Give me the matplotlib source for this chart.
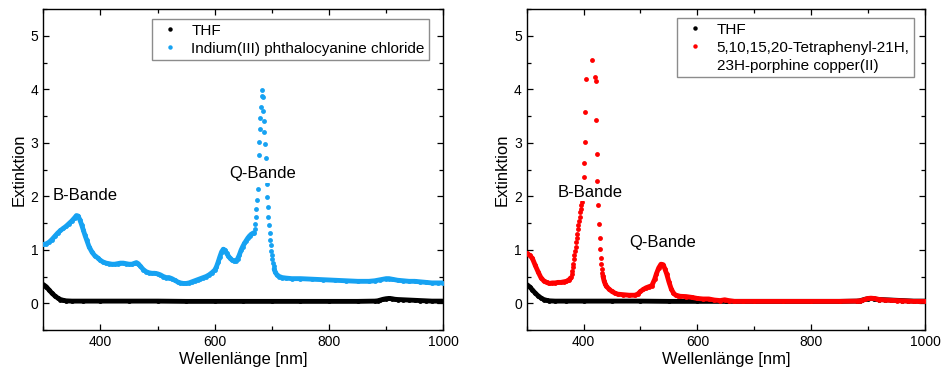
import numpy as np
import matplotlib
matplotlib.use('Agg')
import matplotlib.pyplot as plt
from matplotlib.lines import Line2D

plt.rcParams['font.family'] = ['Liberation Sans', 'DejaVu Sans']

#-------- Data --------#
# THF solvent baseline (same in both panels)
thf_wl = [300, 305, 310, 315, 320, 325, 330, 335, 340, 350, 370, 400, 450, 500, 550, 600,
          650, 700, 750, 800, 850, 880, 885, 890, 895, 900, 905, 910, 915, 920, 930, 940,
          950, 960, 970, 980, 990, 1000]
thf_ext = [0.35, 0.31, 0.25, 0.19, 0.14, 0.10, 0.07, 0.055, 0.045, 0.04, 0.04, 0.04, 0.04, 0.04,
           0.035, 0.035, 0.035, 0.035, 0.035, 0.035, 0.035, 0.04, 0.045, 0.06, 0.075, 0.085,
           0.09, 0.085, 0.075, 0.07, 0.065, 0.06, 0.055, 0.05, 0.045, 0.04, 0.04, 0.04]

# Indium(III) phthalocyanine chloride
inpc_wl = [300, 305, 310, 315, 320, 325, 330, 335, 340, 345, 350, 355, 358, 361, 364, 367,
           370, 373, 376, 380, 385, 390, 395, 400, 405, 410, 415, 420, 425, 430, 435, 440,
           445, 450, 455, 460, 463, 466, 470, 475, 480, 485, 490, 495, 500, 505, 510, 515,
           520, 525, 530, 535, 540, 545, 550, 555, 560, 565, 570, 575, 580, 585, 590, 595,
           600, 603, 606, 609, 612, 615, 618, 621, 624, 627, 630, 634, 637, 640, 643, 646,
           649, 652, 655, 658, 661, 664, 667, 669,
           670, 671, 672, 673, 674, 675, 676, 677, 678, 679, 680, 681, 682, 683, 684, 685,
           686, 687, 688, 689, 690, 691, 692, 693, 694, 695, 696, 697, 698, 699, 700, 701,
           702, 703, 704, 706, 709, 713, 718, 725, 735, 750, 770, 790, 810, 830, 850, 870,
           880, 890, 900, 905, 910, 920, 930, 940, 950, 960, 970, 980, 990, 1000]
inpc_ext = [1.10, 1.11, 1.14, 1.19, 1.25, 1.31, 1.36, 1.40, 1.44, 1.49, 1.54, 1.60, 1.64, 1.63,
            1.56, 1.47, 1.37, 1.27, 1.18, 1.06, 0.96, 0.89, 0.85, 0.80, 0.77, 0.75, 0.74, 0.73,
            0.73, 0.74, 0.75, 0.75, 0.74, 0.73, 0.73, 0.75, 0.76, 0.74, 0.69, 0.63, 0.59, 0.57,
            0.56, 0.56, 0.55, 0.53, 0.50, 0.48, 0.48, 0.46, 0.43, 0.40, 0.38, 0.37, 0.37, 0.38,
            0.40, 0.42, 0.44, 0.46, 0.48, 0.50, 0.53, 0.57, 0.62, 0.68, 0.77, 0.87, 0.96, 1.01,
            0.99, 0.93, 0.88, 0.84, 0.81, 0.79, 0.79, 0.83, 0.90, 0.99, 1.06, 1.12, 1.17, 1.22,
            1.26, 1.29, 1.31, 1.32,
            1.38, 1.48, 1.61, 1.76, 1.93, 2.14, 2.45, 2.78, 3.02, 3.26, 3.47, 3.66, 3.88, 3.98,
            3.85, 3.60, 3.41, 3.20, 2.97, 2.72, 2.45, 2.22, 1.99, 1.79, 1.62, 1.47, 1.32, 1.18,
            1.08, 0.98, 0.90, 0.82, 0.75, 0.69, 0.64, 0.58, 0.53, 0.50, 0.48, 0.47, 0.46, 0.46,
            0.45, 0.44, 0.43, 0.42, 0.41, 0.41, 0.42, 0.44, 0.46, 0.46, 0.45, 0.43, 0.42, 0.41,
            0.41, 0.40, 0.39, 0.38, 0.38, 0.38]

# 5,10,15,20-Tetraphenyl-21H,23H-porphine copper(II)
tpp_wl = [300, 305, 310, 315, 320, 325, 330, 335, 340, 345, 350, 355, 360, 365, 370, 373,
          375, 377, 378, 379, 380, 381, 382, 383, 384, 385, 386, 387, 388, 389, 390, 391,
          392, 393, 394, 395, 396, 397, 398, 399, 400, 401, 402, 403, 404,
          414,
          420, 421, 422, 423, 424, 425, 426, 427, 428, 429, 430, 431, 432, 433, 434, 436,
          438, 440, 445, 450, 455, 460, 470, 480, 490, 495, 500, 505, 510, 515, 520, 525,
          528, 532, 536, 540, 543, 546, 550, 554, 558, 562, 566, 570, 580, 590, 600, 610,
          620, 630, 640, 648, 655, 665, 680, 700, 750, 800, 850, 880, 885, 890, 895, 900,
          905, 910, 915, 920, 930, 940, 950, 960, 970, 980, 990, 1000]
tpp_ext = [0.93, 0.90, 0.84, 0.71, 0.59, 0.48, 0.42, 0.39, 0.37, 0.38, 0.38, 0.39, 0.39, 0.40,
           0.41, 0.43, 0.44, 0.47, 0.50, 0.55, 0.61, 0.67, 0.74, 0.82, 0.90, 0.98, 1.06, 1.14,
           1.22, 1.30, 1.38, 1.46, 1.54, 1.62, 1.70, 1.77, 1.84, 1.90, 1.96, 2.10, 2.36, 2.62,
           3.01, 3.57, 4.19,
           4.54,
           4.22, 4.16, 3.43, 2.79, 2.28, 2.05, 1.84, 1.48, 1.22, 1.02, 0.85, 0.73, 0.64, 0.57,
           0.51, 0.42, 0.36, 0.32, 0.26, 0.22, 0.19, 0.17, 0.16, 0.15, 0.15, 0.17, 0.22, 0.26,
           0.29, 0.31, 0.33, 0.45, 0.55, 0.66, 0.73, 0.72, 0.64, 0.55, 0.40, 0.27, 0.19, 0.15,
           0.14, 0.13, 0.125, 0.11, 0.09, 0.08, 0.08, 0.06, 0.05, 0.065, 0.05, 0.035, 0.035,
           0.035, 0.035, 0.035, 0.035, 0.04, 0.045, 0.055, 0.075, 0.09, 0.095, 0.09, 0.08, 0.07,
           0.06, 0.055, 0.05, 0.045, 0.04, 0.035, 0.035, 0.035]

BLUE = '#16a2f2'
RED = '#ff0000'
MS = 3.5  # dot size [pt]


def dots(ax, wl, ext, color, z):
    """Dense measurement dots; coarse-sampled stretches are bridged by a line of dot width."""
    wl = np.asarray(wl, float)
    ext = np.asarray(ext, float)
    xs, ys = [wl[0]], [ext[0]]
    for i in range(1, len(wl)):
        if not (wl[i] - wl[i-1] >= 2 and abs(ext[i] - ext[i-1]) <= 0.25):
            xs.append(np.nan); ys.append(np.nan)
        xs.append(wl[i]); ys.append(ext[i])
    ax.plot(xs, ys, '-', color=color, lw=MS, solid_capstyle='round',
            solid_joinstyle='round', zorder=z)
    ax.plot(wl, ext, 'o', ms=MS, mec='none', color=color, zorder=z)


def dot_handle(color):
    return Line2D([], [], ls='none', marker='o', ms=3.2, mec='none', color=color)


def style(ax):
    ax.set_xlim(300, 1000)
    ax.set_ylim(-0.5, 5.5)
    ax.set_xticks([400, 600, 800, 1000])
    ax.set_xticks(np.arange(300, 1001, 100), minor=True)
    ax.set_yticks(np.arange(0, 6, 1))
    ax.set_yticks(np.arange(-0.5, 5.6, 0.5), minor=True)
    ax.tick_params(which='both', direction='in', top=True, right=True, labelsize=10, width=0.9)
    ax.tick_params(which='major', length=4.5)
    ax.tick_params(which='minor', length=3)
    for s in ax.spines.values():
        s.set_linewidth(1.0)
    ax.set_xlabel('Wellenlänge [nm]', fontsize=12, labelpad=2)
    ax.set_ylabel('Extinktion', fontsize=12, labelpad=3)


def add_legend(ax, handles, labels, anchor):
    ax.legend(handles, labels, loc='upper right', bbox_to_anchor=anchor, borderaxespad=0,
              fontsize=11, fancybox=False, edgecolor='#8c8c8c', framealpha=1,
              handlelength=1.8, handletextpad=0.5, labelspacing=0.27, borderpad=0.3)


fig = plt.figure(figsize=(9.43, 3.75), dpi=100)
ax1 = fig.add_axes([0.0459, 0.12, 0.4242, 0.856])
ax2 = fig.add_axes([0.5585, 0.12, 0.4224, 0.856])

box = dict(facecolor='white', edgecolor='none', pad=1)

#---- left: InPcCl ----#
dots(ax1, thf_wl, thf_ext, 'black', 2)
dots(ax1, inpc_wl, inpc_ext, BLUE, 3)
ax1.text(317, 2.01, 'B-Bande', fontsize=12, va='center', ha='left', bbox=box, zorder=5)
ax1.text(625, 2.42, 'Q-Bande', fontsize=12, va='center', ha='left', bbox=box, zorder=5)
style(ax1)
add_legend(ax1, [dot_handle('black'), dot_handle(BLUE)],
           ['THF', 'Indium(III) phthalocyanine chloride'], (1 - 14/400, 1 - 10/321))

#---- right: CuTPP ----#
dots(ax2, thf_wl, thf_ext, 'black', 2)
dots(ax2, tpp_wl, tpp_ext, RED, 3)
ax2.text(354, 2.07, 'B-Bande', fontsize=12, va='center', ha='left', bbox=box, zorder=5)
ax2.text(481, 1.14, 'Q-Bande', fontsize=12, va='center', ha='left', bbox=box, zorder=5)
style(ax2)
add_legend(ax2, [dot_handle('black'), dot_handle(RED), Line2D([], [], ls='none')],
           ['THF', '5,10,15,20-Tetraphenyl-21H,', '23H-porphine copper(II)'],
           (1 - 11/398, 1 - 9/321))

fig.savefig('out.png', dpi=100)
